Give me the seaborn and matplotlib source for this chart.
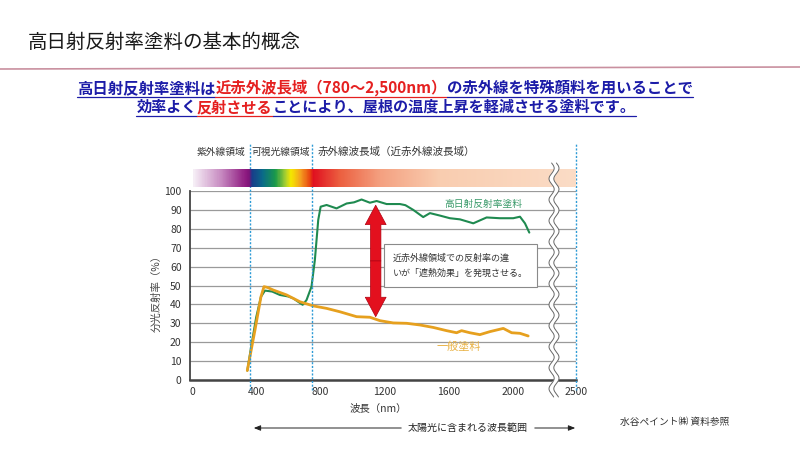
import numpy as np
import pandas as pd
import matplotlib
matplotlib.use('Agg')
import matplotlib.pyplot as plt
import seaborn as sns
from matplotlib.colors import LinearSegmentedColormap
from matplotlib.lines import Line2D
from matplotlib.patches import FancyArrowPatch

# ---------------- data ----------------
high_nm = [345, 370, 400, 430, 455, 500, 548, 600, 631, 660, 690, 714, 745, 766, 787, 802,
           839, 901, 964, 1010, 1057, 1109, 1151, 1213, 1296, 1330, 1379, 1441, 1483, 1545,
           1607, 1670, 1753, 1836, 1919, 2002, 2044, 2075, 2102]
high_val = [5, 18, 33, 44, 47.3, 46.8, 45, 44.2, 43.2, 41.5, 39.8, 42.3, 49.4, 63.5, 84.7, 91.7,
            92.6, 90.8, 93.4, 94, 95.5, 93.8, 94.7, 93.1, 93.1, 92.5, 90, 86.2, 88.3, 87,
            85.6, 85, 82.9, 86, 85.6, 85.6, 86.4, 82.9, 78]
std_nm = [345, 393, 430, 449, 470, 507, 590, 673, 756, 839, 922, 1026, 1109, 1171, 1254, 1338,
          1421, 1504, 1587, 1649, 1680, 1732, 1794, 1857, 1940, 1992, 2044, 2095]
std_val = [5, 26.5, 44, 49.4, 49, 47.6, 45, 41.4, 39.2, 37.9, 36.1, 33.5, 33.2, 31.4, 30.2, 30,
           29.1, 27.8, 26.1, 25, 26.1, 25, 24, 25.6, 27.3, 25, 24.7, 23.3]
series_names = ['高日射反射率塗料', '一般塗料']
x_ticks = [0, 400, 800, 1200, 1600, 2000, 2393]
x_tick_labels = ['0', '400', '800', '1200', '1600', '2000', '2500']
y_ticks = [0, 10, 20, 30, 40, 50, 60, 70, 80, 90, 100]
region_bounds = [360, 750, 2393]
region_labels = ['紫外線領域', '可視光線領域', '赤外線波長域（近赤外線波長域）']

df = pd.concat([
    pd.DataFrame({'wl': high_nm, 'val': high_val, 'series': series_names[0]}),
    pd.DataFrame({'wl': std_nm, 'val': std_val, 'series': series_names[1]}),
])

# ---------------- style ----------------
sns.set_style('white')
plt.rcParams['font.family'] = ['Noto Sans CJK JP', 'DejaVu Sans']

W, H = 800, 450
fig = plt.figure(figsize=(8, 4.5), dpi=100)
fig.patch.set_facecolor('white')

def fx(px):
    return np.asarray(px) / W

def fy(py):
    return 1 - np.asarray(py) / H

GREEN = '#1f8a50'
ORANGE = '#e6a01e'
BLUE_DASH = '#2e9bd6'

ax = fig.add_axes([fx(190), fy(380), fx(576) - fx(190), fy(191) - fy(380)])
sns.lineplot(data=df[df.series == series_names[0]], x='wl', y='val', color=GREEN, lw=1.5,
             sort=False, estimator=None, ax=ax, zorder=4)
sns.lineplot(data=df[df.series == series_names[1]], x='wl', y='val', color=ORANGE, lw=2.0,
             sort=False, estimator=None, ax=ax, zorder=5)

ax.set_xlim(-12, 2393)
ax.set_ylim(0, 100)
ax.set_xticks(x_ticks)
ax.set_xticklabels(x_tick_labels)
ax.set_yticks(y_ticks)
ax.yaxis.grid(True, color='#9a9a9a', lw=0.9)
ax.xaxis.grid(False)
ax.set_axisbelow(True)
for s in ['top', 'right']:
    ax.spines[s].set_visible(False)
ax.spines['left'].set_color('#444')
ax.spines['left'].set_linewidth(1.3)
ax.spines['bottom'].set_color('#444')
ax.spines['bottom'].set_linewidth(1.8)
ax.tick_params(axis='x', direction='in', length=4, width=1, color='#333', labelsize=7.5,
               labelcolor='#333', pad=5)
ax.tick_params(axis='y', length=0, labelsize=7.5, labelcolor='#333', pad=6)
ax.set_ylabel('分光反射率（%）', fontsize=7.5, color='#444')
ax.yaxis.set_label_coords(-0.074, 0.47)
ax.set_xlabel('波長（nm）', fontsize=7.5, color='#333')
ax.xaxis.set_label_coords(0.487, -0.125)

# region dashed lines
for xb in region_bounds:
    ax.axvline(xb, ymin=-0.053, ymax=1.254, clip_on=False, color=BLUE_DASH, lw=1.0,
               ls=(0, (1.5, 1.2)), zorder=6)

# series labels
ax.text(1813, 93.1, series_names[0], color='#3a9a6a', fontsize=7, ha='center', va='center')
ax.text(1664, 17.5, series_names[1], color='#e8b040', fontsize=8, ha='center', va='center')

# red double arrow
mid = (33.5 + 92.5) / 2
for end in (92.5, 33.5):
    ax.add_patch(FancyArrowPatch((1145, mid), (1145, end),
                                 arrowstyle='simple,head_length=14,head_width=15,tail_width=7.5',
                                 mutation_scale=1, fc='#e3101e', ec='#b00010', lw=0.5,
                                 zorder=7, shrinkA=0, shrinkB=0))

# annotation box
ax.text(1252, 60.5, '近赤外線領域での反射率の違\nいが「遮熱効果」を発現させる。', fontsize=6.5,
        color='#333', ha='left', va='center', linespacing=1.85, zorder=8,
        bbox=dict(boxstyle='square,pad=1.0', fc='white', ec='#8a8a8a', lw=0.8))

# spectrum bar
stops = [(0.0, '#f6eef6'), (0.07, '#c88cc2'), (0.136, '#8e1a80'), (0.147, '#7a1478'),
         (0.151, '#1a3a8a'), (0.18, '#0a6a8a'), (0.214, '#1a9a4a'), (0.24, '#a8d030'),
         (0.255, '#f5e800'), (0.28, '#f5a020'), (0.305, '#e84010'), (0.313, '#e01020'),
         (0.384, '#ec6040'), (0.488, '#f4a080'), (0.645, '#f9cdb0'), (1.0, '#fbdcc6')]
cmap = LinearSegmentedColormap.from_list('spec', stops)
sax = fig.add_axes([fx(193), fy(187), fx(576) - fx(193), fy(169) - fy(187)])
sax.imshow(np.linspace(0, 1, 800)[None, :], aspect='auto', cmap=cmap, extent=[0, 1, 0, 1])
sax.axis('off')

# region header labels
fig.text(fx(221), fy(152), region_labels[0], fontsize=7, color='#333', ha='center', va='center')
fig.text(fx(281), fy(152), region_labels[1], fontsize=7, color='#333', ha='center', va='center')
fig.text(fx(318), fy(152), region_labels[2], fontsize=7.6, color='#333', ha='left', va='center')

# wavy axis break
yy = np.linspace(163, 397, 600)
xx = 554 + 2.6 * np.sin(2 * np.pi * (yy - 163) / 21)
fig.add_artist(Line2D(fx(xx), fy(yy), color='white', lw=3.4, zorder=20))
for off in (-2.4, 2.4):
    fig.add_artist(Line2D(fx(xx + off), fy(yy), color='#666', lw=0.7, zorder=21))

# title and rule
fig.text(fx(28), fy(42), '高日射反射率塗料の基本的概念', fontsize=14, color='#1a1a1a',
         ha='left', va='center')
fig.add_artist(Line2D(fx([0, 800]), fy([69, 67]), color='#c9909f', lw=1.2))

NAVY = '#1c1ca8'
RED = '#e52020'
renderer = fig.canvas.get_renderer()

def seg_line(segs, cx, cy, target_w, fs0, uy):
    texts = [fig.text(0, fy(cy), s, color=c, fontsize=fs0, fontweight='bold',
                      ha='left', va='center') for s, c in segs]
    widths = [t.get_window_extent(renderer).width for t in texts]
    scale = target_w / sum(widths)
    for t in texts:
        t.set_fontsize(fs0 * scale)
    widths = [t.get_window_extent(renderer).width for t in texts]
    total = sum(widths)
    x = cx - total / 2
    x0 = x
    for t, w in zip(texts, widths):
        t.set_x(fx(x))
        x += w
    xs = [x0]
    for (s, c), w in zip(segs, widths):
        fig.add_artist(Line2D(fx([xs[-1], xs[-1] + w]), fy([uy, uy]), color=c, lw=0.9))
        xs.append(xs[-1] + w)

seg_line([('高日射反射率塗料は', NAVY), ('近赤外波長域（780～2,500nm）', RED),
          ('の赤外線を特殊顔料を用いることで', NAVY)], 385, 88, 620, 11.3, 97)
seg_line([('効率よく', NAVY), ('反射させる', RED),
          ('ことにより、屋根の温度上昇を軽減させる塗料です。', NAVY)], 386, 107, 502, 11.3, 116)

# bottom arrow & source
fig.text(fx(468), fy(428), '太陽光に含まれる波長範囲', fontsize=7.2, color='#222',
         ha='center', va='center')
fig.add_artist(FancyArrowPatch((fx(404), fy(428)), (fx(251), fy(428)),
                               transform=fig.transFigure,
                               arrowstyle='-|>,head_length=4,head_width=1.6',
                               mutation_scale=1, color='#222', lw=0.7))
fig.add_artist(FancyArrowPatch((fx(532), fy(428)), (fx(578), fy(428)),
                               transform=fig.transFigure,
                               arrowstyle='-|>,head_length=4,head_width=1.6',
                               mutation_scale=1, color='#222', lw=0.7))
fig.text(fx(620), fy(422), '水谷ペイント㈱ 資料参照', fontsize=7, color='#333',
         ha='left', va='center')

fig.savefig('out.png', dpi=100, facecolor='white')
